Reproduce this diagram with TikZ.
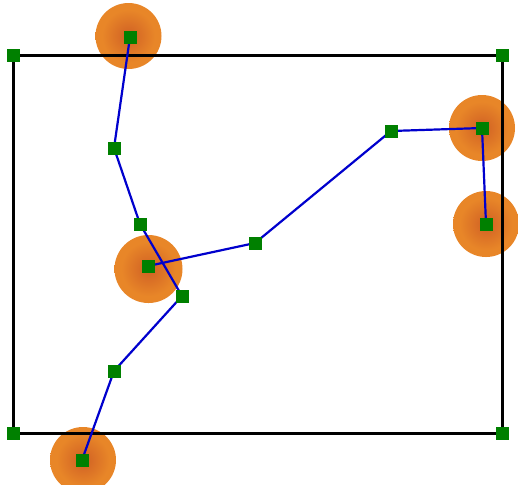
\documentclass[tikz,border=0pt]{standalone}
\definecolor{glowA}{RGB}{208,96,36}
\definecolor{glowB}{RGB}{232,134,40}
\definecolor{glowD}{RGB}{240,165,85}
\definecolor{glowC}{RGB}{253,238,220}
\definecolor{sqgreen}{RGB}{0,128,0}
\definecolor{edgeblue}{RGB}{0,0,205}
\pgfdeclareradialshading{glow}{\pgfpoint{0bp}{0bp}}{color(0bp)=(glowA); color(20bp)=(glowB); color(39bp)=(glowB); color(45bp)=(glowD); color(50bp)=(glowC)}
\tikzset{
  halo/.style={shading=glow, draw=none},
  sq/.style={draw=none, fill=sqgreen, minimum size=6.5pt, inner sep=0pt, outer sep=0pt},
  edge/.style={draw=edgeblue, line width=1.1pt},
  frame/.style={draw=black, line width=1.5pt}
}
\begin{document}
\begin{tikzpicture}[x=0.5pt,y=-0.5pt]
\useasboundingbox (0,0) rectangle (518,484);
% coordinates
\coordinate (a) at (130,37);
\coordinate (b) at (114,148);
\coordinate (c) at (140,224);
\coordinate (d) at (182,296);
\coordinate (e) at (114,371);
\coordinate (f) at (82,460);
\coordinate (g) at (148,266);
\coordinate (h) at (255,243);
\coordinate (i) at (391,131);
\coordinate (j) at (482,128);
\coordinate (k) at (486,224);
\coordinate (tl) at (13,55);
\coordinate (tr) at (502,55);
\coordinate (bl) at (13,433);
\coordinate (br) at (502,433);
% halos
\shade[halo] (128.5,36) circle (33);
\shade[halo] (482,128) circle (33);
\shade[halo] (486,224) circle (33);
\shade[halo] (148.5,269) circle (34);
\shade[halo] (83,460) circle (33);
% frame
\draw[frame] (tl) rectangle (br);
% edges
\draw[edge] (a) -- (b) -- (c) -- (d) -- (e) -- (f);
\draw[edge] (g) -- (h) -- (i) -- (j) -- (k);
% squares
\foreach \n in {a,b,c,d,e,f,g,h,i,j,k,tl,tr,bl,br}
  \node[sq] (s\n) at (\n) {};
\end{tikzpicture}
\end{document}
